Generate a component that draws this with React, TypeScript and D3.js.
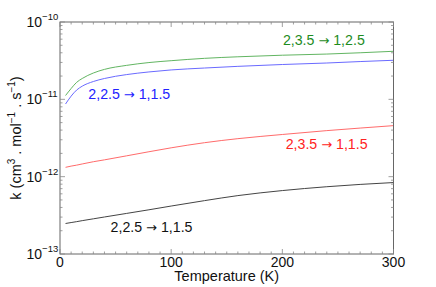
import React, { useRef, useEffect } from 'react';
import * as d3 from 'd3';

// temperatures (K) shared by all curves
const temps = [5, 10, 15, 20, 30, 40, 60, 80, 100, 130, 160, 200, 240, 270, 300];

// rate coefficients k (cm3 mol-1 s-1)
const green_k = [1.12e-11, 1.38e-11, 1.66e-11, 1.86e-11, 2.19e-11, 2.44e-11, 2.75e-11, 2.99e-11, 3.16e-11, 3.39e-11, 3.55e-11, 3.72e-11, 3.85e-11, 4.0e-11, 4.18e-11];
const blue_k = [8.7e-12, 1.1e-11, 1.32e-11, 1.48e-11, 1.7e-11, 1.86e-11, 2.09e-11, 2.26e-11, 2.4e-11, 2.54e-11, 2.67e-11, 2.82e-11, 2.95e-11, 3.08e-11, 3.2e-11];
const red_k = [1.32e-12, 1.37e-12, 1.41e-12, 1.46e-12, 1.56e-12, 1.65e-12, 1.86e-12, 2.1e-12, 2.36e-12, 2.75e-12, 3.1e-12, 3.51e-12, 3.94e-12, 4.25e-12, 4.57e-12];
const black_k = [2.48e-13, 2.55e-13, 2.62e-13, 2.7e-13, 2.85e-13, 3.01e-13, 3.35e-13, 3.73e-13, 4.17e-13, 4.9e-13, 5.69e-13, 6.61e-13, 7.41e-13, 7.94e-13, 8.39e-13];

// transition labels: [from, to]
const seriesNames = [['2,3.5', '1,2.5'], ['2,2.5', '1,1.5'], ['2,3.5', '1,1.5'], ['2,2.5', '1,1.5']];

const xTickVals = [0, 100, 200, 300];
const yDecades = [-13, -12, -11, -10];

const App = () => {
  const svgRef = useRef(null);

  useEffect(() => {
    const W = 436, H = 287;
    const left = 60, right = 393.5, top = 22, bottom = 254;
    const font = '"Liberation Sans", Arial, Helvetica, sans-serif';

    const svg = d3.select(svgRef.current)
      .attr('width', W)
      .attr('height', H);
    svg.selectAll('*').remove();

    const x = d3.scaleLinear().domain([0, 300]).range([left, right]);
    const y = d3.scaleLog().domain([1e-13, 1e-10]).range([bottom, top]);

    const series = [
      { name: seriesNames[0], values: green_k, line: '#62b562', text: '#1e8c1e', lx: 200.5, ly: 45 },
      { name: seriesNames[1], values: blue_k, line: '#6a6aff', text: '#2222ff', lx: 25.5, ly: 99 },
      { name: seriesNames[2], values: red_k, line: '#ff6b6b', text: '#ff2222', lx: 203, ly: 149 },
      { name: seriesNames[3], values: black_k, line: '#444444', text: '#111111', lx: 45.5, ly: 232 },
    ];

    const line = d3.line()
      .x(d => x(d[0]))
      .y(d => y(d[1]))
      .curve(d3.curveMonotoneX);

    series.forEach(s => {
      svg.append('path')
        .datum(temps.map((t, i) => [t, s.values[i]]))
        .attr('d', line)
        .attr('fill', 'none')
        .attr('stroke', s.line)
        .attr('stroke-width', 1);
      const lbl = svg.append('text')
        .attr('x', x(s.lx))
        .attr('y', s.ly)
        .attr('font-family', font)
        .attr('font-size', 14.2)
        .attr('fill', s.text);
      lbl.append('tspan').text(s.name[0] + ' ');
      lbl.append('tspan').attr('font-family', '"DejaVu Sans", sans-serif').attr('font-size', 13).text('\u2192');
      lbl.append('tspan').text(' ' + s.name[1]);
    });

    // frame
    svg.append('rect')
      .attr('x', left).attr('y', top)
      .attr('width', right - left).attr('height', bottom - top)
      .attr('fill', 'none')
      .attr('stroke', '#666')
      .attr('stroke-width', 1);

    const ticks = svg.append('g').attr('stroke', '#888').attr('stroke-width', 0.8);

    // x ticks, minor every 10 K, on bottom and top
    d3.range(0, 301, 10).forEach(t => {
      const len = t % 100 === 0 ? 5 : 2.5;
      ticks.append('line').attr('x1', x(t)).attr('x2', x(t)).attr('y1', bottom).attr('y2', bottom - len);
      ticks.append('line').attr('x1', x(t)).attr('x2', x(t)).attr('y1', top).attr('y2', top + len);
    });

    // y ticks, log minors, on left and right
    y.ticks().forEach(v => {
      const m = Math.round(v / Math.pow(10, Math.floor(Math.log10(v) + 1e-9)));
      const len = m === 1 ? 5 : 2.5;
      ticks.append('line').attr('x1', left).attr('x2', left + len).attr('y1', y(v)).attr('y2', y(v));
      ticks.append('line').attr('x1', right).attr('x2', right - len).attr('y1', y(v)).attr('y2', y(v));
    });

    // x tick labels
    svg.append('g')
      .selectAll('text')
      .data(xTickVals)
      .enter()
      .append('text')
      .attr('x', d => x(d))
      .attr('y', 267)
      .attr('text-anchor', 'middle')
      .attr('font-family', font)
      .attr('font-size', 14)
      .attr('fill', '#111')
      .text(d => d);

    // y tick labels 10^n
    yDecades.forEach(p => {
      const t = svg.append('text')
        .attr('x', 26.5)
        .attr('y', y(Math.pow(10, p)) + 5)
        .attr('font-family', font)
        .attr('font-size', 14)
        .attr('fill', '#111');
      t.append('tspan').text('10');
      t.append('tspan')
        .attr('dy', -7)
        .attr('font-size', 9.5)
        .text('\u2212' + Math.abs(p));
    });

    // axis titles
    svg.append('text')
      .attr('x', (left + right) / 2)
      .attr('y', 281)
      .attr('text-anchor', 'middle')
      .attr('font-family', font)
      .attr('font-size', 14.5)
      .attr('fill', '#111')
      .text('Temperature (K)');

    const yt = svg.append('text')
      .attr('transform', `translate(21,${(top + bottom) / 2}) rotate(-90)`)
      .attr('text-anchor', 'middle')
      .attr('font-family', font)
      .attr('font-size', 14.5)
      .attr('fill', '#111');
    yt.append('tspan').text('k (cm');
    yt.append('tspan').attr('dy', -6).attr('font-size', 10).text('3');
    yt.append('tspan').attr('dy', 6).text(' . mol');
    yt.append('tspan').attr('dy', -6).attr('font-size', 10).text('\u22121');
    yt.append('tspan').attr('dy', 6).text(' . s');
    yt.append('tspan').attr('dy', -6).attr('font-size', 10).text('\u22121');
    yt.append('tspan').attr('dy', 6).text(')');
  }, []);

  return <svg ref={svgRef} style={{ position: 'absolute', left: 0, top: 0 }}></svg>;
};

export default App;
